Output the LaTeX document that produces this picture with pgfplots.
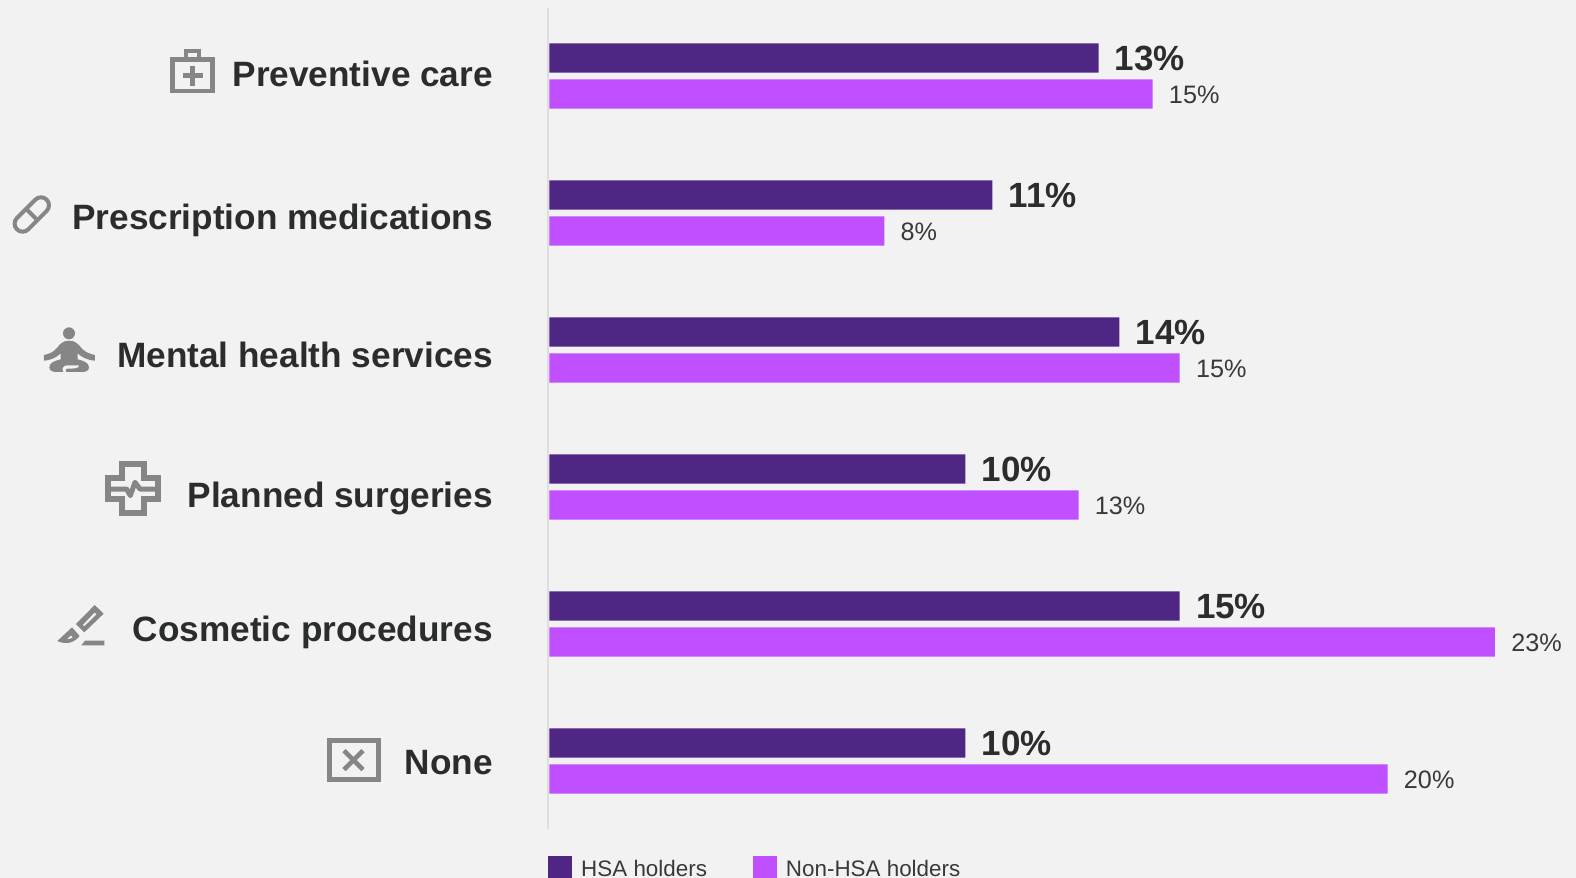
\documentclass[border=0pt]{standalone}
\usepackage{pgfplots}
\usepackage{pgfplotstable}
\usepackage{fontspec}
\setmainfont{Liberation Sans}
\pgfplotsset{compat=1.18}

\definecolor{pagebg}{HTML}{F2F2F2}
\definecolor{hsa}{HTML}{4F2683}
\definecolor{nonhsa}{HTML}{BF4FFF}
\definecolor{ink}{HTML}{2B2D2D}
\definecolor{softink}{HTML}{383A3A}
\definecolor{icon}{HTML}{868686}
\definecolor{baseline}{HTML}{DEDEDE}

% share of respondents per category, position 0 is the top group
\pgfplotstableread{
pos value
0 13.2
1 10.65
2 13.7
3 10.0
4 15.15
5 10.0
}\hsatable
\pgfplotstableread{
pos value
0 14.5
1 8.05
2 15.15
3 12.72
4 22.73
5 20.15
}\nonhsatable

% category label with its own baseline drop
\newcommand{\cat}[2]{\raisebox{-#1pt}{#2}}

\begin{document}
\begin{tikzpicture}[x=0.5pt,y=-0.5pt]
\fill[pagebg] (0,0) rectangle (1576,878);
\useasboundingbox (0,0) rectangle (1576,878);

\begin{axis}[
  at={(274.125pt,-4pt)}, anchor=north west,
  scale only axis,
  width=513.875pt, height=410.5pt,
  xmin=-0.03, xmax=24.68,
  ymin=-0.4964, ymax=5.4964,
  y dir=reverse,
  axis x line=none,
  axis y line=left,
  y axis line style={draw=baseline,line width=1pt,-},
  xtick=\empty,
  ytick={0,1,2,3,4,5},
  major tick length=0pt,
  ytick style={draw=none},
  yticklabels={
    {\cat{5}{Preventive care}},
    {\cat{8.15}{Prescription medications}},
    {\cat{8.85}{Mental health services}},
    {\cat{10.35}{Planned surgeries}},
    {\cat{8.85}{Cosmetic procedures}},
    {\cat{6.5}{None}}},
  y tick label style={anchor=base east,inner sep=0pt,xshift=-27.5pt,
    font=\fontsize{17.6}{20}\selectfont\bfseries,text=ink},
  clip=false,
  legend columns=2,
  legend cell align=left,
  legend style={at={(axis description cs:0,-0.0333)},anchor=north west,
    draw=none,fill=none,inner sep=0pt,outer sep=0pt,
    font=\fontsize{11.2}{13}\selectfont,text=softink,
    /tikz/every odd column/.style={column sep=2.5pt},
    /tikz/every even column/.style={column sep=21pt}},
  legend image code/.code={
    \fill[#1] (0pt,-9pt) rectangle (12pt,7pt);
  },
  point meta=x,
  nodes near coords={\pgfmathprintnumber[fixed,precision=0,assume math mode=true]{\pgfplotspointmeta}\%},
]
\addplot[xbar,bar width=14.7pt,bar shift=9pt,fill=hsa,draw=none,
  nodes near coords style={anchor=west,inner xsep=0pt,xshift=8pt,yshift=9pt,
    font=\fontsize{17.5}{20}\selectfont\bfseries,text=ink}]
  table[x=value,y=pos]{\hsatable};
\addlegendentry{HSA holders}
\addplot[xbar,bar width=14.7pt,bar shift=-9pt,fill=nonhsa,draw=none,
  nodes near coords style={anchor=west,inner xsep=0pt,xshift=8pt,yshift=-9.5pt,
    font=\fontsize{12.6}{15}\selectfont,text=softink}]
  table[x=value,y=pos]{\nonhsatable};
\addlegendentry{Non-HSA holders}
\end{axis}

% icons beside the category names
\begin{scope}[icon]
  % first-aid case
  \draw[line width=2.4pt] (172.8,59.8) rectangle (212.2,91);
  \draw[line width=2pt] (186.3,57) -- (186.3,51.3) -- (199,51.3) -- (199,57);
  \fill (190.2,65.7) rectangle (194.8,85.7);
  \fill (182.5,73.4) rectangle (202.5,78);
  % capsule
  \begin{scope}[shift={(31.8,214.5)},rotate=45]
    \draw[line width=2pt,rounded corners=4pt] (-21,-8) rectangle (21,8);
    \draw[line width=2pt] (0,-8) -- (0,8);
  \end{scope}
  % seated figure
  \begin{scope}[shift={(40,320)},scale=0.3333]
    \fill (87,40) circle[radius=18];
    \fill (87,62) .. controls (68,62) and (60,72) .. (50,85)
      .. controls (42,95) and (28,102) .. (12,105) -- (12,122)
      .. controls (35,120) and (50,112) .. (62,100) -- (62,118)
      .. controls (45,122) and (28,128) .. (28,142)
      .. controls (28,152) and (38,156) .. (50,156) -- (70,156)
      .. controls (64,146) and (68,136) .. (82,136) -- (118,136)
      .. controls (118,146) and (100,146) .. (82,146)
      .. controls (78,146) and (76,150) .. (78,156) -- (125,156)
      .. controls (138,156) and (147,152) .. (147,142)
      .. controls (147,128) and (130,122) .. (113,118) -- (113,100)
      .. controls (125,112) and (142,120) .. (165,122) -- (165,105)
      .. controls (148,102) and (134,95) .. (125,85)
      .. controls (115,72) and (106,62) .. (87,62) -- cycle;
  \end{scope}
  % medical cross with pulse trace
  \begin{scope}[shift={(100,455)},scale=0.3333]
    \draw[line width=3.1pt,miter limit=4]
      (65,28) -- (133,28) -- (133,70) -- (173,70) -- (173,133) -- (133,133)
      -- (133,174) -- (65,174) -- (65,133) -- (25,133) -- (25,70) -- (65,70) -- cycle;
    \draw[line width=2.5pt,line join=round]
      (30,102) -- (80,102) -- (91,122) -- (105,82) -- (120,102) -- (168,102);
  \end{scope}
  % scalpel and incision line
  \begin{scope}[shift={(50,600)},scale=0.3333]
    \fill[even odd rule] (78,72) -- (134,15) -- (161,41) -- (103,97) -- cycle
      (98,75) -- (134,37) -- (140,43) -- (103,79) -- cycle;
    \fill[even odd rule] (66,82) -- (89,108) .. controls (74,127) and (50,136) .. (22,123) -- cycle
      (63,106) -- (69,112) .. controls (63,116) and (56,118) .. (50,118) -- cycle;
    \fill (105,122) -- (163,122) -- (163,136) -- (94,136) -- cycle;
  \end{scope}
  % crossed box
  \draw[line width=2.6pt] (329.3,740.5) rectangle (378.1,779.2);
  \draw[line width=2.3pt] (344,750.5) -- (363,769.5);
  \draw[line width=2.3pt] (363,750.5) -- (344,769.5);
\end{scope}
\end{tikzpicture}
\end{document}
